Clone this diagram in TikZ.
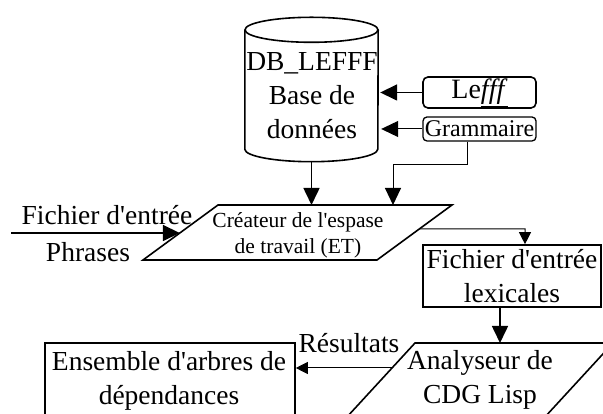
\documentclass[tikz,border=0pt]{standalone}
\usepackage{fontspec}
\setmainfont{Liberation Serif}[Ligatures=TeXOff]
\usetikzlibrary{arrows.meta,calc}
\begin{document}
\begin{tikzpicture}[x=1pt,y=1pt,
  thk/.style={line width=1.6pt},
  thn/.style={line width=1pt},
  big/.style={font=\fontsize{27.5}{34}\selectfont, align=center, inner sep=0pt},
  arr/.style={-{Triangle[length=17pt,width=16pt]}},
  sarr/.style={-{Triangle[length=12pt,width=12pt]}}]
\useasboundingbox (0,0) rectangle (603,414);
\clip (0,0) rectangle (603,414);
% database cylinder
\node[minimum width=133pt, minimum height=119pt, inner sep=0pt] (db) at (311.5,324.5) {};
\draw[thk] (db.north west) -- (db.south west)
  arc[start angle=180, end angle=360, x radius=66.5, y radius=12.5] -- (db.north east);
\draw[thk] (db.north) ellipse [x radius=66.5, y radius=12.5];
\node[big] (dbtext) at (312,318) {DB\_LEFFF\\Base de\\données};
\coordinate (dbbot) at ($(db.south)+(0,-12.5)$);
% sources
\node[draw, thk, rounded corners=5pt, minimum width=113pt, minimum height=31pt, inner sep=0pt,
  font=\fontsize{28}{30}\selectfont] (lefff) at (479.5,321.5) {Le\underline{\textit{fff}}};
\node[draw, line width=1.3pt, rounded corners=4pt, minimum width=113pt, minimum height=24pt, inner sep=0pt,
  font=\fontsize{24}{25}\selectfont] (gram) at (479.5,285) {Grammaire};
\draw[thk, arr, shorten >=2pt] (lefff.west) -- (lefff.west -| db.east);
\draw[thn, arr, shorten >=3pt] (gram.west) -- (gram.west -| db.east);
% workspace creator
\coordinate (c1tl) at (218,209);
\coordinate (c1tr) at (452,209);
\coordinate (c1br) at (377,154);
\coordinate (c1bl) at (143,154);
\draw[thk] (c1tl) -- (c1tr) -- (c1br) -- (c1bl) -- cycle;
\node[font=\fontsize{21.5}{26}\selectfont, align=center, inner sep=0pt] (create) at (298,179)
  {Créateur de l'espase\\de travail (ET)};
\draw[thk, arr] (dbbot) -- (dbbot |- c1tl);
\coordinate (gs) at ($(gram.south)+(-12,0)$);
\coordinate (g1) at (393,249);
\draw[thn, arr] (gs) -- (gs |- g1) -- (g1) -- (g1 |- c1tl);
% input
\coordinate (inS) at (11,181);
\coordinate (inE) at ($(c1bl)!27/55!(c1tl)$);
\draw[thk, arr] (inS) -- (inE);
\node[big] (lblF) at (107,199) {Fichier d'entrée};
\node[big] (lblP) at (88,162) {Phrases};
% lexical file
\node[draw, thk, big, minimum width=178pt, minimum height=62pt] (lex) at (512,138) {Fichier d'entrée\\lexicales};
\coordinate (outS) at ($(c1br)!31/55!(c1tr)$);
\coordinate (o1) at (525,185);
\draw[thn, sarr] (outS) -- (o1) -- (o1 |- lex.north);
% analyser
\coordinate (a2tl) at (415,71);
\coordinate (a2tr) at (613,71);
\coordinate (a2br) at (533,-16);
\coordinate (a2bl) at (335,-16);
\draw[thk] (a2tl) -- (a2tr) -- (a2br) -- (a2bl) -- cycle;
\node[big] (ana) at (480,34) {Analyseur de\\CDG Lisp};
\coordinate (lexb) at ($(lex.south)+(-12,0)$);
\draw[thk, arr] (lexb) -- (lexb |- a2tl);
% results
\node[draw, thk, minimum width=250pt, minimum height=101pt, inner sep=0pt] (ens) at (170,20.5) {};
\node[big] (enstext) at (169,33) {Ensemble d'arbres de\\dépendances};
\coordinate (rS) at ($(a2tl)!25/87!(a2bl)$);
\draw[thn, sarr] (rS) -- (rS -| ens.east);
\node[big] (res) at (349,71) {Résultats};
\end{tikzpicture}
\end{document}
